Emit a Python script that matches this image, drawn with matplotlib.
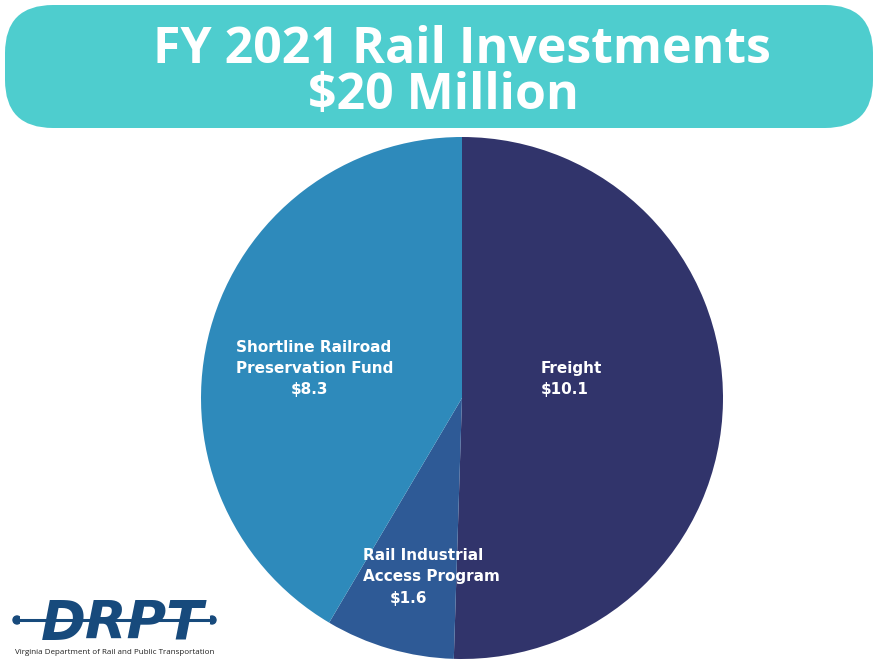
import matplotlib.pyplot as plt
from matplotlib.patches import FancyBboxPatch, Circle

# Дані
categories = ["Freight", "Rail Industrial\nAccess Program", "Shortline Railroad\nPreservation Fund"]
values = [10.1, 1.6, 8.3]
value_labels = ["$10.1", "$1.6", "$8.3"]
colors = ["#31346b", "#2e5a96", "#2e8abb"]

title_lines = ["FY 2021 Rail Investments", "$20 Million"]

W, H = 878, 660
fig = plt.figure(figsize=(W / 100, H / 100), dpi=100)
ax = fig.add_axes([0, 0, 1, 1])


def py(y):
    # піксельна координата зверху -> координата осей знизу
    return H - y


# Кругова діаграма
ax.pie(values, colors=colors, startangle=90, counterclock=False,
       center=(462, py(398)), radius=261, frame=True,
       wedgeprops=dict(linewidth=0))
ax.set_xlim(0, W)
ax.set_ylim(0, H)
ax.set_aspect("equal")
ax.axis("off")

# Заголовок у "пігулці"
box = FancyBboxPatch((5, py(128)), 868, 123,
                     boxstyle="round,pad=0,rounding_size=48",
                     facecolor="#4ecdce", edgecolor="none")
ax.add_patch(box)
ax.text(462, py(63), title_lines[0], ha="center", va="baseline",
        fontsize=36, fontweight="bold", family="Open Sans", color="white")
ax.text(443, py(109), title_lines[1], ha="center", va="baseline",
        fontsize=36, fontweight="bold", family="Open Sans", color="white")

lab = dict(fontsize=11, fontweight="bold", family="DejaVu Sans", color="white",
           va="center", ha="left")
# Freight
ax.text(541, py(369), categories[0], **lab)
ax.text(541, py(390), value_labels[0], **lab)
# Rail Industrial Access Program
ri = categories[1].split("\n")
ax.text(363, py(555), ri[0], **lab)
ax.text(363, py(577), ri[1], **lab)
ax.text(390, py(598), value_labels[1], **lab)
# Shortline
sl = categories[2].split("\n")
ax.text(236, py(348), sl[0], **lab)
ax.text(236, py(369), sl[1], **lab)
ax.text(291, py(390), value_labels[2], **lab)

# Логотип DRPT
logo_c = "#174a7c"
ax.text(122, py(639), "DRPT", ha="center", va="baseline", fontsize=39,
        fontweight="bold", fontstyle="italic", family="DejaVu Sans", color=logo_c)
ax.plot([20, 210], [py(620), py(620)], color="white", linewidth=6, solid_capstyle="butt")
ax.plot([17, 212], [py(620), py(620)], color=logo_c, linewidth=2.2, solid_capstyle="butt")
ax.add_patch(Circle((17, py(620)), 4, color=logo_c))
ax.add_patch(Circle((212, py(620)), 4, color=logo_c))
ax.text(115, py(652), "Virginia Department of Rail and Public Transportation",
        ha="center", va="center", fontsize=5.8, family="Open Sans", color="#222222")

fig.savefig("out.png", dpi=100)
